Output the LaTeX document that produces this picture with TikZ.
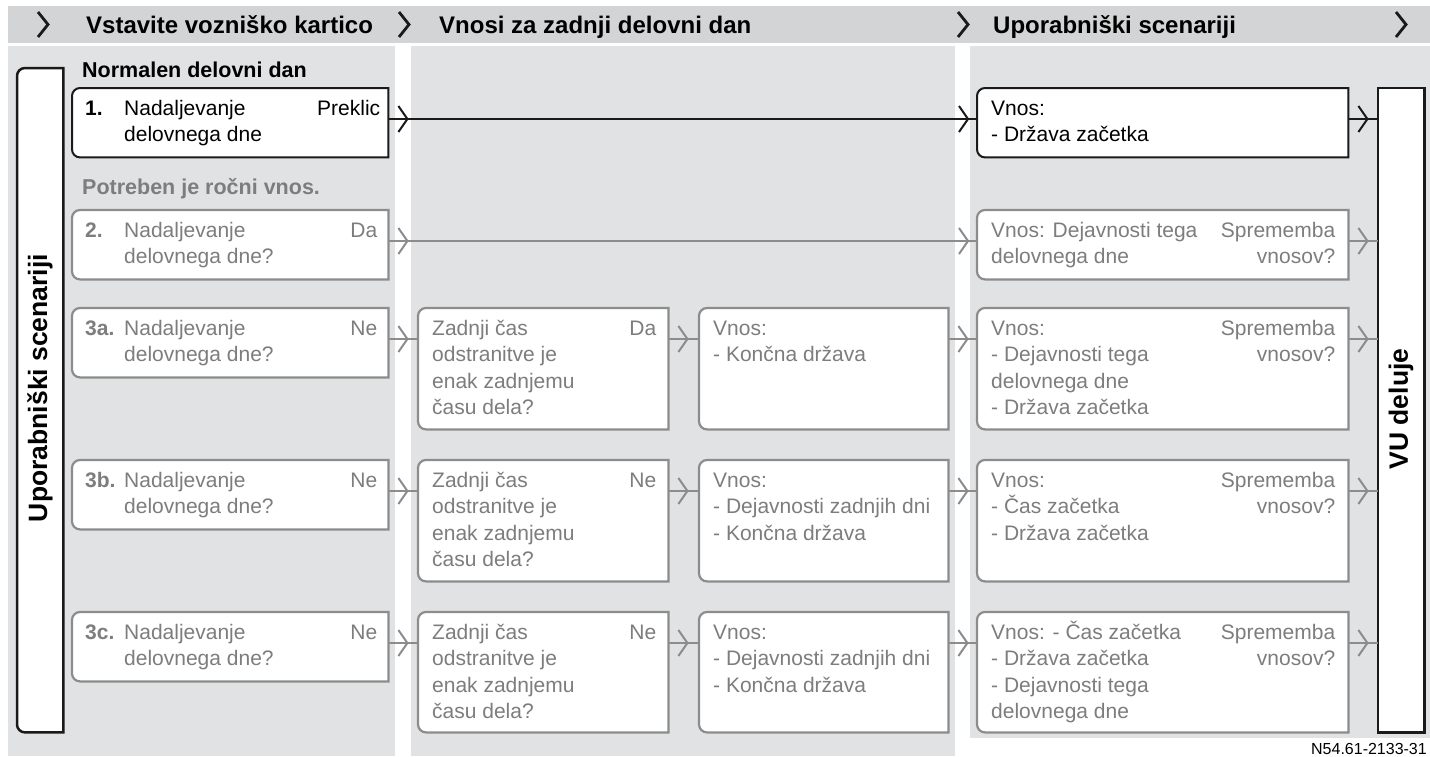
\documentclass[tikz,border=0pt]{standalone}
\usepackage{fontspec}
\setmainfont{Liberation Sans}
\definecolor{hdr}{HTML}{D3D4D6}
\definecolor{colbg}{HTML}{E1E2E4}
\definecolor{gtxt}{HTML}{7D7D7D}
\definecolor{gline}{HTML}{8C8C8C}
\definecolor{blk}{HTML}{1A1A1A}
\newcommand\boxoutline[2]{%
  \filldraw[#1] (#2.north east) -- ([xshift=8pt]#2.north west)
    arc[start angle=90,end angle=180,radius=8pt] -- ([yshift=8pt]#2.south west)
    arc[start angle=180,end angle=270,radius=8pt] -- (#2.south east) -- cycle;}
\newcommand\chevout[2]{%
  \draw[#1] ([xshift=10pt,yshift=-18pt]#2.north east) -- ++(9,-13) -- ++(-9,-13);}
\newcommand\chevin[2]{%
  \draw[#1] ([xshift=-18pt,yshift=-18pt]#2.north west) -- ++(9,-13) -- ++(-9,-13);}
\begin{document}
\begin{tikzpicture}[x=1pt,y=1pt,
  shell/.style={rectangle,inner sep=0pt,draw=none,anchor=north west},
  bkbox/.style={draw=blk,fill=white,line width=2pt},
  gybox/.style={draw=gline,fill=white,line width=2.2pt},
  bigbox/.style={draw=blk,fill=white,line width=2.5pt},
  txt/.style={inner sep=0pt,align=left,anchor=north west,font=\fontsize{21}{26.5}\selectfont},
  rtxt/.style={inner sep=0pt,align=right,anchor=north east,font=\fontsize{21}{26.5}\selectfont},
  num/.style={inner sep=0pt,anchor=north west,font=\bfseries\fontsize{21}{26.5}\selectfont},
  htxt/.style={inner sep=0pt,anchor=base west,font=\bfseries\fontsize{24}{28}\selectfont,text=black},
  sect/.style={inner sep=0pt,anchor=base west,font=\bfseries\fontsize{21.5}{26}\selectfont},
  rot/.style={inner sep=0pt,rotate=90,font=\bfseries\fontsize{26.5}{30}\selectfont,text=black},
  hchev/.style={draw=blk,line width=2.8pt},
  bconn/.style={draw=blk,line width=2pt},
  gconn/.style={draw=gline,line width=2pt},
]
\useasboundingbox (0,0) rectangle (1430,-756);
% backgrounds
\fill[hdr] (8,-6) rectangle (1430,-43);
\fill[colbg] (8,-46) rectangle (395,-756);
\fill[colbg] (411,-46) rectangle (955,-756);
\fill[colbg] (970,-46) rectangle (1430,-738);
% header
\draw[hchev] (38,-12) -- (48,-24.5) -- (38,-37);
\draw[hchev] (399,-12) -- (409,-24.5) -- (399,-37);
\draw[hchev] (958,-12) -- (968,-24.5) -- (958,-37);
\draw[hchev] (1396,-12) -- (1406,-24.5) -- (1396,-37);
\node[htxt] (h1) at (86,-33) {Vstavite vozniško kartico};
\node[htxt] (h2) at (439,-33) {Vnosi za zadnji delovni dan};
\node[htxt] (h3) at (993,-33) {Uporabniški scenariji};
% section labels
\node[sect,text=black] (s1) at (82,-77) {Normalen delovni dan};
\node[sect,text=gtxt] (s2) at (82,-194) {Potreben je ročni vnos.};
% side boxes
\node[shell,minimum width=46pt,minimum height=664pt] (lb) at (17,-68) {};
\boxoutline{bigbox}{lb}
\node[rot] (lbt) at (40,-388) {Uporabniški scenariji};
\node[shell,minimum width=46pt,minimum height=644pt] (vu) at (1378,-88) {};
\draw[bigbox] (vu.north west) rectangle (vu.south east);
\node[rot] (vut) at (1401,-409) {VU deluje};
% ---------- row 1 ----------
\node[shell,minimum width=316pt,minimum height=69pt] (b1) at (72,-88) {};
\boxoutline{bkbox}{b1}
\node[num,text=black] (b1n) at ([xshift=13pt,yshift=-7pt]b1.north west) {\rule{0pt}{20pt}1.};
\node[txt,text=black] (b1t) at ([xshift=52pt,yshift=-7pt]b1.north west) {\rule{0pt}{20pt}Nadaljevanje\\delovnega dne};
\node[rtxt,text=black] (b1r) at ([xshift=-8pt,yshift=-7pt]b1.north east) {\rule{0pt}{20pt}Preklic};
\node[shell,minimum width=371pt,minimum height=69pt] (c1) at (977,-88) {};
\boxoutline{bkbox}{c1}
\node[txt,text=black] (c1t) at ([xshift=14pt,yshift=-7pt]c1.north west) {\rule{0pt}{20pt}Vnos:\\- Država začetka};
\draw[bconn] ([yshift=-31pt]b1.north east) -- ([yshift=-31pt]c1.north west);
\draw[bconn] ([yshift=-31pt]c1.north east) -- ([yshift=-31pt]c1.north east -| vu.west);
\chevout{bconn}{b1}\chevin{bconn}{c1}\chevout{bconn}{c1}
% ---------- row 2 ----------
\node[shell,minimum width=316pt,minimum height=69pt] (b2) at (72,-210) {};
\boxoutline{gybox}{b2}
\node[num,text=gtxt] (b2n) at ([xshift=13pt,yshift=-7pt]b2.north west) {\rule{0pt}{20pt}2.};
\node[txt,text=gtxt] (b2t) at ([xshift=52pt,yshift=-7pt]b2.north west) {\rule{0pt}{20pt}Nadaljevanje\\delovnega dne?};
\node[rtxt,text=gtxt] (b2r) at ([xshift=-11pt,yshift=-7pt]b2.north east) {\rule{0pt}{20pt}Da};
\node[shell,minimum width=371pt,minimum height=69pt] (c2) at (977,-210) {};
\boxoutline{gybox}{c2}
\node[txt,text=gtxt] (c2t) at ([xshift=14pt,yshift=-7pt]c2.north west) {\rule{0pt}{20pt}Vnos: Dejavnosti tega\\delovnega dne};
\node[rtxt,text=gtxt] (c2r) at ([xshift=-13pt,yshift=-7pt]c2.north east) {\rule{0pt}{20pt}Sprememba\\vnosov?};
\draw[gconn] ([yshift=-31pt]b2.north east) -- ([yshift=-31pt]c2.north west);
\draw[gconn] ([yshift=-31pt]c2.north east) -- ([yshift=-31pt]c2.north east -| vu.west);
\chevout{gconn}{b2}\chevin{gconn}{c2}\chevout{gconn}{c2}
% ---------- rows 3a, 3b, 3c ----------
% 3a
\node[shell,minimum width=316pt,minimum height=69pt] (b3) at (72,-308) {};
\boxoutline{gybox}{b3}
\node[num,text=gtxt] (b3n) at ([xshift=13pt,yshift=-7pt]b3.north west) {\rule{0pt}{20pt}3a.};
\node[txt,text=gtxt] (b3t) at ([xshift=52pt,yshift=-7pt]b3.north west) {\rule{0pt}{20pt}Nadaljevanje\\delovnega dne?};
\node[rtxt,text=gtxt] (b3r) at ([xshift=-11pt,yshift=-7pt]b3.north east) {\rule{0pt}{20pt}Ne};
\node[shell,minimum width=250pt,minimum height=121pt] (z3) at (418,-308) {};
\boxoutline{gybox}{z3}
\node[txt,text=gtxt] (z3t) at ([xshift=14pt,yshift=-7pt]z3.north west) {\rule{0pt}{20pt}Zadnji čas\\odstranitve je\\enak zadnjemu\\času dela?};
\node[rtxt,text=gtxt] (z3r) at ([xshift=-12pt,yshift=-7pt]z3.north east) {\rule{0pt}{20pt}Da};
\node[shell,minimum width=249pt,minimum height=121pt] (v3) at (699,-308) {};
\boxoutline{gybox}{v3}
\node[txt,text=gtxt] (v3t) at ([xshift=14pt,yshift=-7pt]v3.north west) {\rule{0pt}{20pt}Vnos:\\- Končna država};
\node[shell,minimum width=371pt,minimum height=121pt] (c3) at (977,-308) {};
\boxoutline{gybox}{c3}
\node[txt,text=gtxt] (c3t) at ([xshift=14pt,yshift=-7pt]c3.north west) {\rule{0pt}{20pt}Vnos:\\- Dejavnosti tega\\delovnega dne\\- Država začetka};
\node[rtxt,text=gtxt] (c3r) at ([xshift=-13pt,yshift=-7pt]c3.north east) {\rule{0pt}{20pt}Sprememba\\vnosov?};
\draw[gconn] ([yshift=-31pt]b3.north east) -- ([yshift=-31pt]z3.north west);
\draw[gconn] ([yshift=-31pt]z3.north east) -- ([yshift=-31pt]v3.north west);
\draw[gconn] ([yshift=-31pt]v3.north east) -- ([yshift=-31pt]c3.north west);
\draw[gconn] ([yshift=-31pt]c3.north east) -- ([yshift=-31pt]c3.north east -| vu.west);
\chevout{gconn}{b3}\chevout{gconn}{z3}\chevout{gconn}{v3}\chevout{gconn}{c3}
% 3b
\node[shell,minimum width=316pt,minimum height=69pt] (b4) at (72,-460) {};
\boxoutline{gybox}{b4}
\node[num,text=gtxt] (b4n) at ([xshift=13pt,yshift=-7pt]b4.north west) {\rule{0pt}{20pt}3b.};
\node[txt,text=gtxt] (b4t) at ([xshift=52pt,yshift=-7pt]b4.north west) {\rule{0pt}{20pt}Nadaljevanje\\delovnega dne?};
\node[rtxt,text=gtxt] (b4r) at ([xshift=-11pt,yshift=-7pt]b4.north east) {\rule{0pt}{20pt}Ne};
\node[shell,minimum width=250pt,minimum height=121pt] (z4) at (418,-460) {};
\boxoutline{gybox}{z4}
\node[txt,text=gtxt] (z4t) at ([xshift=14pt,yshift=-7pt]z4.north west) {\rule{0pt}{20pt}Zadnji čas\\odstranitve je\\enak zadnjemu\\času dela?};
\node[rtxt,text=gtxt] (z4r) at ([xshift=-12pt,yshift=-7pt]z4.north east) {\rule{0pt}{20pt}Ne};
\node[shell,minimum width=249pt,minimum height=121pt] (v4) at (699,-460) {};
\boxoutline{gybox}{v4}
\node[txt,text=gtxt] (v4t) at ([xshift=14pt,yshift=-7pt]v4.north west) {\rule{0pt}{20pt}Vnos:\\- Dejavnosti zadnjih dni\\- Končna država};
\node[shell,minimum width=371pt,minimum height=121pt] (c4) at (977,-460) {};
\boxoutline{gybox}{c4}
\node[txt,text=gtxt] (c4t) at ([xshift=14pt,yshift=-7pt]c4.north west) {\rule{0pt}{20pt}Vnos:\\- Čas začetka\\- Država začetka};
\node[rtxt,text=gtxt] (c4r) at ([xshift=-13pt,yshift=-7pt]c4.north east) {\rule{0pt}{20pt}Sprememba\\vnosov?};
\draw[gconn] ([yshift=-31pt]b4.north east) -- ([yshift=-31pt]z4.north west);
\draw[gconn] ([yshift=-31pt]z4.north east) -- ([yshift=-31pt]v4.north west);
\draw[gconn] ([yshift=-31pt]v4.north east) -- ([yshift=-31pt]c4.north west);
\draw[gconn] ([yshift=-31pt]c4.north east) -- ([yshift=-31pt]c4.north east -| vu.west);
\chevout{gconn}{b4}\chevout{gconn}{z4}\chevout{gconn}{v4}\chevout{gconn}{c4}
% 3c
\node[shell,minimum width=316pt,minimum height=69pt] (b5) at (72,-612) {};
\boxoutline{gybox}{b5}
\node[num,text=gtxt] (b5n) at ([xshift=13pt,yshift=-7pt]b5.north west) {\rule{0pt}{20pt}3c.};
\node[txt,text=gtxt] (b5t) at ([xshift=52pt,yshift=-7pt]b5.north west) {\rule{0pt}{20pt}Nadaljevanje\\delovnega dne?};
\node[rtxt,text=gtxt] (b5r) at ([xshift=-11pt,yshift=-7pt]b5.north east) {\rule{0pt}{20pt}Ne};
\node[shell,minimum width=250pt,minimum height=120pt] (z5) at (418,-612) {};
\boxoutline{gybox}{z5}
\node[txt,text=gtxt] (z5t) at ([xshift=14pt,yshift=-7pt]z5.north west) {\rule{0pt}{20pt}Zadnji čas\\odstranitve je\\enak zadnjemu\\času dela?};
\node[rtxt,text=gtxt] (z5r) at ([xshift=-12pt,yshift=-7pt]z5.north east) {\rule{0pt}{20pt}Ne};
\node[shell,minimum width=249pt,minimum height=120pt] (v5) at (699,-612) {};
\boxoutline{gybox}{v5}
\node[txt,text=gtxt] (v5t) at ([xshift=14pt,yshift=-7pt]v5.north west) {\rule{0pt}{20pt}Vnos:\\- Dejavnosti zadnjih dni\\- Končna država};
\node[shell,minimum width=371pt,minimum height=120pt] (c5) at (977,-612) {};
\boxoutline{gybox}{c5}
\node[txt,text=gtxt] (c5t) at ([xshift=14pt,yshift=-7pt]c5.north west) {\rule{0pt}{20pt}Vnos: - Čas začetka\\- Država začetka\\- Dejavnosti tega\\delovnega dne};
\node[rtxt,text=gtxt] (c5r) at ([xshift=-13pt,yshift=-7pt]c5.north east) {\rule{0pt}{20pt}Sprememba\\vnosov?};
\draw[gconn] ([yshift=-31pt]b5.north east) -- ([yshift=-31pt]z5.north west);
\draw[gconn] ([yshift=-31pt]z5.north east) -- ([yshift=-31pt]v5.north west);
\draw[gconn] ([yshift=-31pt]v5.north east) -- ([yshift=-31pt]c5.north west);
\draw[gconn] ([yshift=-31pt]c5.north east) -- ([yshift=-31pt]c5.north east -| vu.west);
\chevout{gconn}{b5}\chevout{gconn}{z5}\chevout{gconn}{v5}\chevout{gconn}{c5}
% reference label
\node[inner sep=0pt,anchor=base east,font=\fontsize{16}{18}\selectfont,text=black] (ref) at (1427,-754) {N54.61-2133-31};
\end{tikzpicture}
\end{document}
